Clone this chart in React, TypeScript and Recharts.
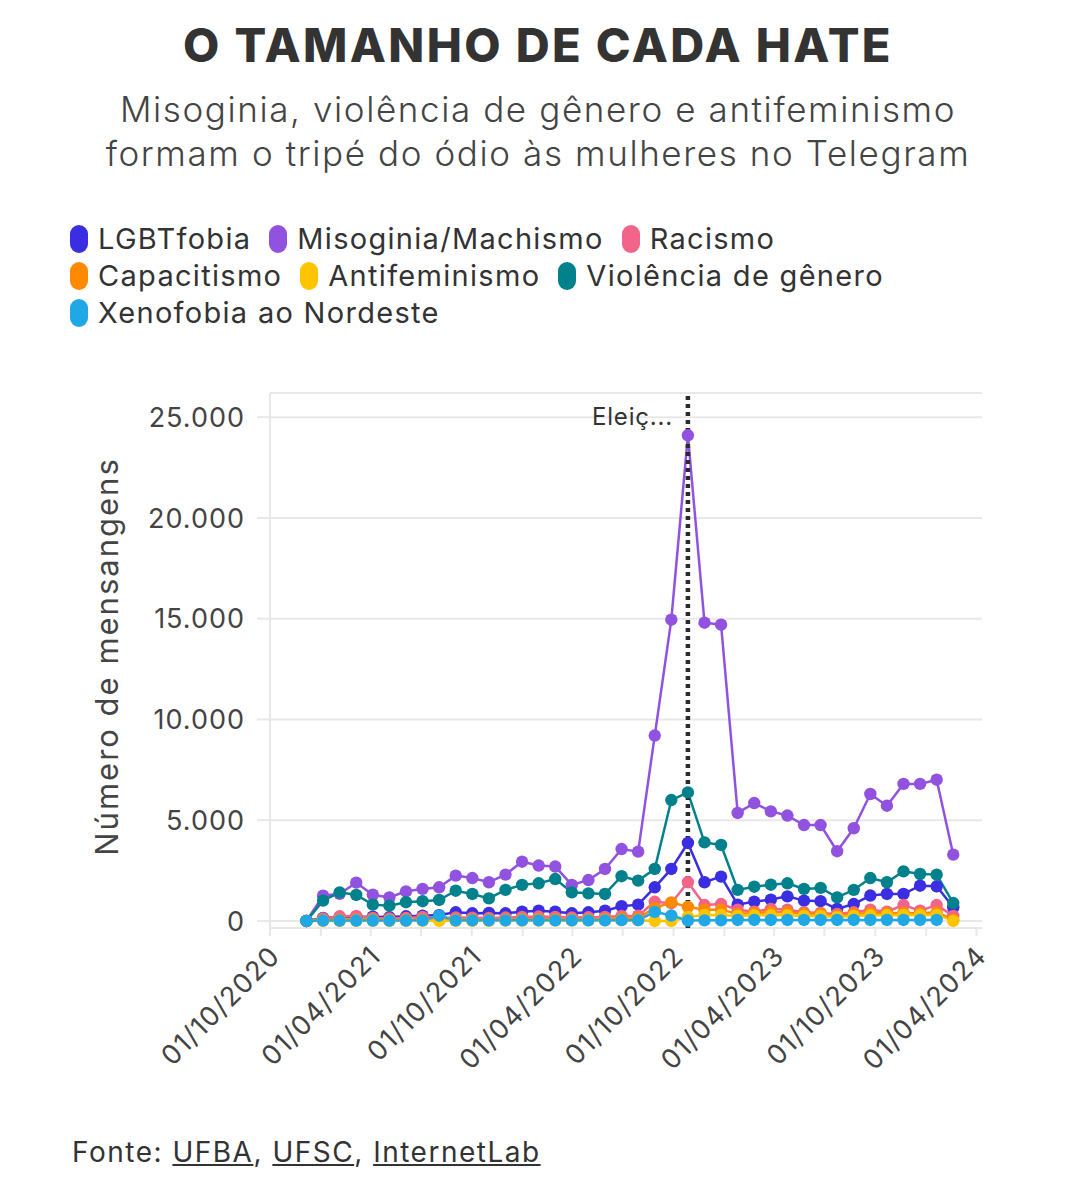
import React from "react";
import {
  LineChart,
  Line,
  XAxis,
  YAxis,
  CartesianGrid,
  ReferenceLine,
} from "recharts";

// one point per ~30 days
const dates = [
  "2020-12-06", "2021-01-05", "2021-02-04", "2021-03-06", "2021-04-05",
  "2021-05-05", "2021-06-04", "2021-07-04", "2021-08-03", "2021-09-02",
  "2021-10-02", "2021-11-01", "2021-12-01", "2021-12-31", "2022-01-30",
  "2022-03-01", "2022-03-31", "2022-04-30", "2022-05-30", "2022-06-29",
  "2022-07-29", "2022-08-28", "2022-09-27", "2022-10-27", "2022-11-26",
  "2022-12-26", "2023-01-25", "2023-02-24", "2023-03-26", "2023-04-25",
  "2023-05-25", "2023-06-24", "2023-07-24", "2023-08-23", "2023-09-22",
  "2023-10-22", "2023-11-21", "2023-12-21", "2024-01-20", "2024-02-19",
];

const lgbtfobia = [
  0, 150, 180, 200, 210, 190, 230, 260, 290, 430, 380, 400, 380, 460, 510,
  460, 380, 430, 510, 730, 810, 1670, 2580, 3870, 1920, 2200, 810, 960, 1060,
  1220, 1010, 980, 600, 840, 1260, 1340, 1340, 1750, 1720, 680,
];
const misoginia = [
  0, 1250, 1350, 1900, 1300, 1170, 1470, 1590, 1670, 2250, 2130, 1920, 2300,
  2940, 2750, 2700, 1790, 2030, 2580, 3570, 3440, 9200, 14950, 24100, 14800,
  14700, 5360, 5850, 5440, 5230, 4760, 4760, 3460, 4600, 6300, 5720, 6800,
  6800, 7010, 3290,
];
const racismo = [
  0, 120, 230, 250, 150, 130, 150, 200, 150, 170, 160, 150, 170, 200, 220, 200,
  170, 180, 200, 250, 260, 950, 880, 1920, 790, 840, 560, 460, 600, 560, 430,
  400, 350, 430, 560, 460, 790, 510, 790, 250,
];
const capacitismo = [
  0, 60, 80, 80, 70, 60, 70, 80, 70, 80, 80, 70, 80, 90, 100, 90, 80, 90, 100,
  130, 140, 650, 920, 700, 560, 560, 350, 400, 430, 430, 350, 350, 250, 350,
  400, 380, 400, 380, 430, 60,
];
const antifeminismo = [
  0, 0, 0, 10, 10, 10, 10, 10, 0, 10, 10, 10, 20, 20, 20, 20, 20, 30, 30, 40,
  40, 0, 0, 200, 300, 300, 250, 280, 280, 280, 250, 250, 200, 250, 280, 280,
  300, 300, 300, 0,
];
const violencia = [
  0, 1010, 1420, 1290, 810, 760, 930, 980, 1040, 1500, 1340, 1120, 1540, 1790,
  1870, 2080, 1420, 1370, 1340, 2220, 2000, 2580, 6000, 6380, 3900, 3770, 1540,
  1700, 1800, 1870, 1590, 1640, 1170, 1540, 2130, 1920, 2460, 2330, 2300, 890,
];
const xenofobia = [
  0, 20, 20, 20, 20, 20, 20, 30, 260, 30, 30, 30, 30, 30, 30, 30, 30, 30, 30,
  40, 40, 450, 270, 20, 30, 30, 50, 50, 50, 50, 50, 50, 50, 50, 50, 50, 50, 50,
  50, null,
];

const series = [
  { key: "lgbt", name: "LGBTfobia", color: "#3b2de2", values: lgbtfobia },
  { key: "miso", name: "Misoginia/Machismo", color: "#9152df", values: misoginia },
  { key: "rac", name: "Racismo", color: "#f2648a", values: racismo },
  { key: "cap", name: "Capacitismo", color: "#ff8a00", values: capacitismo },
  { key: "anti", name: "Antifeminismo", color: "#ffc400", values: antifeminismo },
  { key: "viol", name: "Violência de gênero", color: "#01818b", values: violencia },
  { key: "xeno", name: "Xenofobia ao Nordeste", color: "#20a8e6", values: xenofobia },
];

const legendRows = [[0, 1, 2], [3, 4, 5], [6]];

const xTicks = [
  "2020-10-01", "2021-01-01", "2021-04-01", "2021-07-01", "2021-10-01",
  "2022-01-01", "2022-04-01", "2022-07-01", "2022-10-01", "2023-01-01",
  "2023-04-01", "2023-07-01", "2023-10-01", "2024-01-01", "2024-04-01",
];
const yTicks = [0, 5000, 10000, 15000, 20000, 25000];
const electionDate = "2022-10-27";

const data = dates.map((d, i) => {
  const row: any = { t: Date.parse(d) };
  series.forEach((s) => (row[s.key] = s.values[i]));
  return row;
});

const FONT = "Inter, 'Open Sans', sans-serif";

const fmtNum = (v: number) => String(v).replace(/\B(?=(\d{3})+(?!\d))/g, ".");

const XTick = (props: any) => {
  const { x, y, payload } = props;
  const d = new Date(payload.value);
  const m = d.getUTCMonth();
  if (m !== 9 && m !== 3) return null;
  const label = `01/${String(m + 1).padStart(2, "0")}/${d.getUTCFullYear()}`;
  return (
    <text
      x={x + 5}
      y={y + 13}
      transform={`rotate(-45, ${x + 5}, ${y + 13})`}
      textAnchor="end"
      dy="0.35em"
      fontSize={27}
      letterSpacing={1.2}
      fill="#444"
      fontFamily={FONT}
    >
      {label}
    </text>
  );
};

export default function App() {
  return (
    <div
      style={{
        position: "relative",
        width: 1076,
        height: 1200,
        margin: -8,
        background: "#fff",
        fontFamily: FONT,
        color: "#333",
      }}
    >
      <div
        style={{
          position: "absolute",
          top: 19,
          width: "100%",
          textAlign: "center",
          fontSize: 47,
          fontWeight: 800,
          letterSpacing: 2.4,
          lineHeight: "52px",
          color: "#333",
        }}
      >
        O TAMANHO DE CADA HATE
      </div>
      <div
        style={{
          position: "absolute",
          top: 87,
          width: "100%",
          textAlign: "center",
          fontSize: 35,
          fontWeight: 300,
          letterSpacing: 1.6,
          lineHeight: "44px",
          color: "#444",
        }}
      >
        Misoginia, violência de gênero e antifeminismo
        <br />
        formam o tripé do ódio às mulheres no Telegram
      </div>

      <div style={{ position: "absolute", top: 220, left: 70 }}>
        {legendRows.map((row, ri) => (
          <div key={ri} style={{ display: "flex", height: 37, alignItems: "center" }}>
            {row.map((idx) => (
              <div
                key={idx}
                style={{ display: "flex", alignItems: "center", marginRight: 18 }}
              >
                <span
                  style={{
                    width: 18,
                    height: 28,
                    borderRadius: 9,
                    background: series[idx].color,
                    marginRight: 10,
                  }}
                />
                <span style={{ fontSize: 29, letterSpacing: 1.3, color: "#333" }}>
                  {series[idx].name}
                </span>
              </div>
            ))}
          </div>
        ))}
      </div>

      <div style={{ position: "absolute", top: 380, left: 0 }}>
        <LineChart
          width={1076}
          height={720}
          data={data}
          margin={{ top: 13, right: 94, bottom: 0, left: 0 }}
        >
          <CartesianGrid vertical={false} stroke="#e8e8e8" strokeWidth={2} />
          <XAxis
            type="number"
            dataKey="t"
            domain={[Date.parse("2020-10-01"), Date.parse("2024-04-11")]}
            ticks={xTicks.map((d) => Date.parse(d))}
            tick={<XTick />}
            axisLine={false}
            tickLine={{ stroke: "#e8e8e8", strokeWidth: 2 }}
            tickSize={8}
            height={172}
            interval={0}
          />
          <YAxis
            type="number"
            domain={[-350, 26200]}
            ticks={yTicks}
            tickFormatter={fmtNum}
            width={270}
            tick={{ fontSize: 27, fill: "#444", fontFamily: FONT, letterSpacing: 1 }}
            axisLine={{ stroke: "#e8e8e8", strokeWidth: 2 }}
            tickLine={{ stroke: "#e8e8e8", strokeWidth: 2 }}
            tickSize={13}
            tickMargin={12}
            label={{
              value: "Número de mensangens",
              content: (p: any) => {
                const vb = p.viewBox;
                const cy = vb.y + vb.height / 2 - 4;
                return (
                  <text
                    x={107}
                    y={cy}
                    transform={`rotate(-90, 107, ${cy})`}
                    textAnchor="middle"
                    dy="0.35em"
                    fontSize={31}
                    letterSpacing={2}
                    fill="#444"
                    fontFamily={FONT}
                  >
                    Número de mensangens
                  </text>
                );
              },
            }}
          />
          {series.map((s) => (
            <Line
              key={s.key}
              type="linear"
              dataKey={s.key}
              name={s.name}
              stroke={s.color}
              strokeWidth={2.5}
              dot={{ r: 6.2, fill: s.color, stroke: s.color, strokeWidth: 0 }}
              activeDot={false}
              isAnimationActive={false}
            />
          ))}
          <ReferenceLine
            x={Date.parse(electionDate)}
            stroke="#2a2a2a"
            strokeWidth={4.5}
            strokeDasharray="4 4"
            label={{
              value: "Eleiç...",
              content: (p: any) => {
                const vb = p.viewBox;
                return (
                  <text
                    x={vb.x - 15}
                    y={vb.y + 24}
                    textAnchor="end"
                    dy="0.35em"
                    fontSize={24}
                    letterSpacing={0.8}
                    fill="#333"
                    fontFamily={FONT}
                  >
                    Eleiç...
                  </text>
                );
              },
            }}
          />
        </LineChart>
      </div>

      <div
        style={{
          position: "absolute",
          top: 1133,
          left: 72,
          fontSize: 28,
          letterSpacing: 1.5,
          color: "#333",
          lineHeight: "38px",
        }}
      >
        Fonte: <u>UFBA</u>, <u>UFSC</u>, <u>InternetLab</u>
      </div>
    </div>
  );
}
